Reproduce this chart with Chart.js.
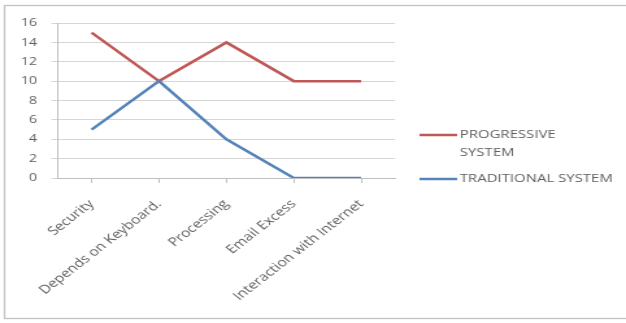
<!DOCTYPE html>
<html>
<head>
<meta charset="utf-8">
<script src="https://cdn.jsdelivr.net/npm/chart.js@4/dist/chart.umd.min.js"></script>
<style>
  html, body { margin: 0; padding: 0; background: #fff; }
  #wrap { width: 626px; height: 323px; overflow: hidden; }
</style>
</head>
<body>
<div id="wrap">
  <!-- the source picture is a pasted chart stretched sideways, so the canvas is drawn narrow and widened by css -->
  <canvas id="systemsChart" width="482" height="323" style="width:626px;height:323px;display:block"></canvas>
</div>
<script>
const categories = ['Security', 'Depends on Keyboard.', 'Processing', 'Email Excess', 'Interaction with Internet'];
const progressive = [15, 10, 14, 10, 10];
const traditional = [5, 10, 4, 0, 0];
const seriesNames = [['PROGRESSIVE', 'SYSTEM'], ['TRADITIONAL SYSTEM']];
const yTicks = [0, 2, 4, 6, 8, 10, 12, 14, 16];

const FONT = "'Open Sans', sans-serif";
const GREY_TEXT = '#5f5f5f';

// outer frame like the pasted excel chart
const framePlugin = {
    id: 'frame',
    beforeDraw(chart) {
        const ctx = chart.ctx;
        ctx.save();
        ctx.strokeStyle = '#c4c4c4';
        ctx.lineWidth = 1.3;
        ctx.strokeRect(3.5, 5.5, 520, 313);
        ctx.restore();
    }
};

// legend on the right, first name wraps on two lines
const sideLegend = {
    id: 'sideLegend',
    afterDraw(chart) {
        const ctx = chart.ctx;
        const x = chart.chartArea.right + 19;
        let y = 135;
        ctx.save();
        ctx.font = '11.5px ' + FONT;
        ctx.textBaseline = 'middle';
        ctx.fillStyle = GREY_TEXT;
        chart.data.datasets.forEach((ds, i) => {
            ctx.strokeStyle = ds.borderColor;
            ctx.lineWidth = 2.5;
            ctx.beginPath();
            ctx.moveTo(x, y);
            ctx.lineTo(x + 29, y);
            ctx.stroke();
            seriesNames[i].forEach((line, j) => {
                ctx.fillText(line, x + 31, y + j * 18);
            });
            y += 44;
        });
        ctx.restore();
    }
};

const ctx = document.getElementById('systemsChart').getContext('2d');
const myChart = new Chart(ctx, {
    type: 'line',
    data: {
        labels: categories,
        datasets: [{
            label: seriesNames[0].join(' '),
            data: progressive,
            borderColor: '#bf5856',
            borderWidth: 2.5,
            pointRadius: 0,
            tension: 0,
            order: 1
        }, {
            label: seriesNames[1].join(' '),
            data: traditional,
            borderColor: '#5584b8',
            borderWidth: 2.5,
            pointRadius: 0,
            tension: 0,
            order: 0
        }]
    },
    options: {
        responsive: false,
        animation: false,
        devicePixelRatio: 1,
        layout: {
            padding: { top: 23, right: 178, left: 0, bottom: 0 }
        },
        scales: {
            x: {
                offset: true,
                grid: {
                    drawOnChartArea: false,
                    drawTicks: true,
                    tickLength: 5,
                    color: '#bfbfbf'
                },
                border: { color: '#bfbfbf' },
                ticks: {
                    minRotation: 45,
                    maxRotation: 45,
                    padding: 14,
                    color: GREY_TEXT,
                    font: { family: FONT, size: 12 }
                },
                afterFit(scale) { scale.height = 145; }
            },
            y: {
                min: 0,
                max: 16,
                afterBuildTicks(scale) {
                    scale.ticks = yTicks.map(v => ({ value: v }));
                },
                grid: {
                    color: '#d6d6d6',
                    tickLength: 5
                },
                border: { color: '#bfbfbf' },
                ticks: {
                    padding: 11,
                    color: GREY_TEXT,
                    font: { family: FONT, size: 11 }
                },
                afterFit(scale) { scale.width = 44.6; }
            }
        },
        plugins: {
            legend: {
                display: false
            },
            tooltip: {
                enabled: false
            }
        }
    },
    plugins: [framePlugin, sideLegend]
});
</script>
</body>
</html>
